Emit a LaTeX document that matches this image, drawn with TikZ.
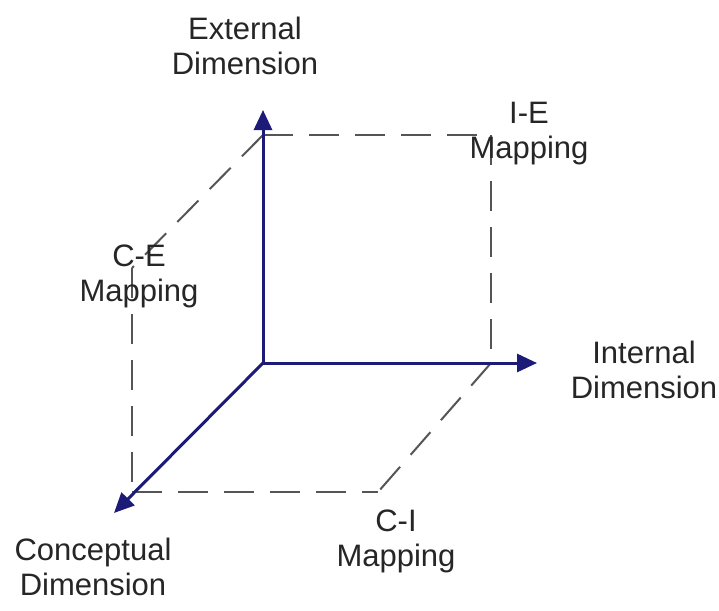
\documentclass[tikz,border=0pt]{standalone}
\usepackage{fontspec}
\setmainfont{Liberation Sans}
\usetikzlibrary{arrows.meta}
\definecolor{axisblue}{RGB}{28,28,120}
\definecolor{dashgray}{RGB}{85,85,85}
\tikzset{
  axis/.style={draw=axisblue, line width=3pt, -{Triangle[length=20pt,width=18pt]}},
  dashline/.style={draw=dashgray, line width=2pt, dash pattern=on 30pt off 16pt},
  lbl/.style={align=center, inner sep=0pt, text=black!85, font=\fontsize{31}{35}\selectfont}
}
\begin{document}
\begin{tikzpicture}[x=1pt, y=-1pt]
\useasboundingbox (0,0) rectangle (719,610);
\fill[white] (0,0) rectangle (719,610);
% corners
\coordinate (O) at (263,363);
\coordinate (Etip) at (263,110);
\coordinate (Itip) at (537,363);
\coordinate (Ctip) at (114,513);
\coordinate (Etop) at (263,135);
\coordinate (IEc) at (491,135);
\coordinate (Ic) at (491,363);
\coordinate (CEc) at (132,268);
\coordinate (Cc) at (132,492);
\coordinate (CIc) at (378,492);
% dashed box
\draw[dashline] (Etop) -- (IEc);
\draw[dashline] (IEc) -- (Ic);
\draw[dashline] (Etop) -- (CEc);
\draw[dashline] (CEc) -- (Cc);
\draw[dashline] (Cc) -- (CIc);
\draw[dashline] (Ic) -- (CIc);
% axes
\draw[axis] (O) -- (Etip);
\draw[axis] (O) -- (Itip);
\draw[axis] (O) -- (Ctip);
% labels
\node[lbl] (ext) at (245,46) {External\\Dimension};
\node[lbl] (ie) at (529,134) {I-E\\Mapping};
\node[lbl] (ce) at (139,276) {C-E\\Mapping};
\node[lbl] (int) at (644,370) {Internal\\Dimension};
\node[lbl] (con) at (93,567) {Conceptual\\Dimension};
\node[lbl] (ci) at (396,541) {C-I\\Mapping};
\end{tikzpicture}
\end{document}
